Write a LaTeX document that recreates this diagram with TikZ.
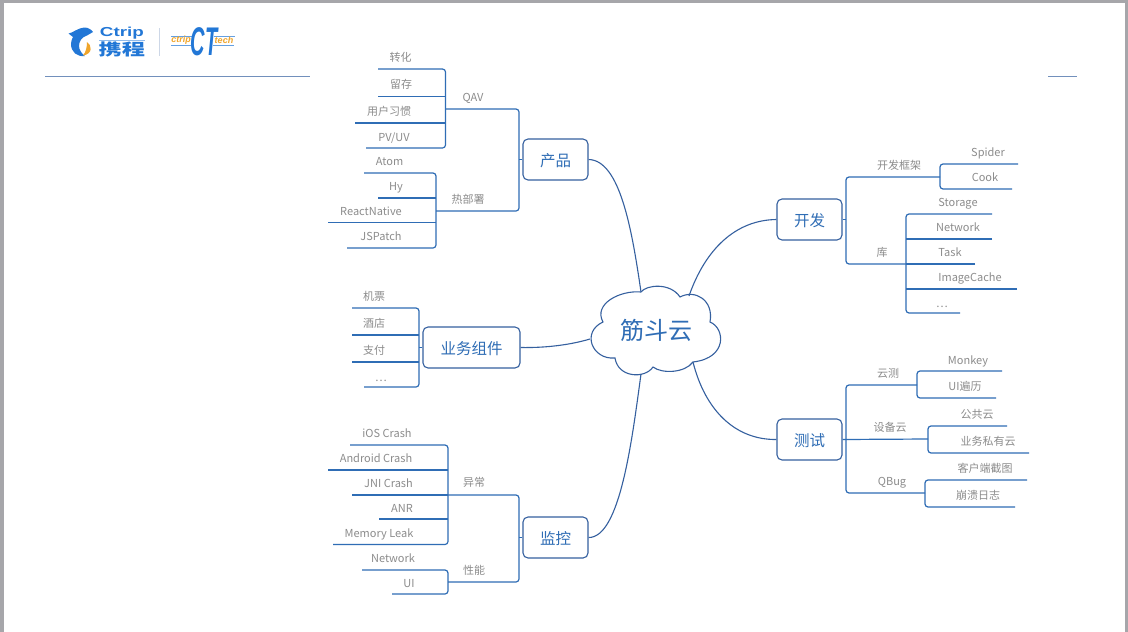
\documentclass[tikz,border=0pt]{standalone}
\usepackage{fontspec}
\setmainfont{Liberation Sans}
\newfontfamily\cjk{Noto Sans CJK SC}
\definecolor{azul}{HTML}{2F6DB5}
\definecolor{azulosc}{HTML}{35609F}
\definecolor{grisletra}{HTML}{8C8C8C}
\definecolor{marco}{HTML}{A6A6AA}
\definecolor{naranja}{HTML}{F0A52A}
\definecolor{logoazul}{HTML}{2277D6}

\begin{document}
\begin{tikzpicture}[x=1pt, y=-1pt,
  caja/.style={draw=azulosc, rounded corners=5pt, line width=1.1pt, fill=white, minimum height=41pt, inner sep=0pt, text=azul, text height=14.5pt, text depth=0pt, font=\cjk\fontsize{15.5}{17}\selectfont},
  nube/.style={inner sep=0pt, text=azul, font=\cjk\fontsize{24}{26}\selectfont},
  hoja/.style={text=grisletra, inner sep=0pt, text height=9.5pt, text depth=2pt, font=\cjk\fontsize{11}{13}\selectfont},
  marca/.style={inner sep=0pt, text=logoazul, transform shape},
  rama/.style={draw=azul, line width=1.2pt, rounded corners=3pt},
  curva/.style={draw=azulosc, line width=1.1pt}]
\useasboundingbox (0,0) rectangle (1128,632);
\fill[marco] (0,0) rectangle (1128,632);
\fill[white] (4,3) rectangle (1125,632);
% cabecera
\draw[azulosc!70, line width=0.7pt] (45,76) -- (310,76);
\draw[azulosc!70, line width=0.7pt] (1048,76) -- (1077,76);
\fill[logoazul] (68.5,33.5) .. controls (73,33) and (77,28) .. (85,27.5) .. controls (88,27.5) and (92,30) .. (93,32) -- (87,35.5) .. controls (82,37) and (79,41) .. (79,46) .. controls (79,50) and (82,54) .. (85,56) .. controls (77,57) and (71,52) .. (71,44) .. controls (71,41) and (72,39) .. (73,37) -- cycle;
\fill[naranja] (87,42) .. controls (92,45) and (93,54) .. (83,55.5) .. controls (86,52) and (87,47) .. (87,42) -- cycle;
\begin{scope}[xscale=1.45]
\node[marca, font=\fontsize{13}{13}\selectfont\bfseries] (ctrip) at (84.1,33) {Ctrip};
\node[marca, font=\cjk\fontsize{16}{16}\selectfont\bfseries] (xiecheng) at (84.1,49.5) {携程};
\end{scope}
\draw[logoazul!50, line width=0.5pt] (99,40) -- (145,40);
\draw[azulosc!25, line width=0.7pt] (159,28) -- (159,56);
\draw[logoazul!70, line width=0.8pt] (171,36) -- (192,36) (171,45.5) -- (191,45.5) (214,36) -- (235,36) (213,45.5) -- (234,45.5);
\node[marca, text=naranja, font=\fontsize{9}{9}\selectfont\bfseries\itshape] (lctrip) at (181,40.5) {ctrip};
\node[marca, text=naranja, font=\fontsize{9}{9}\selectfont\bfseries\itshape] (ltech) at (224,40.5) {tech};
\begin{scope}[xscale=0.5]
\node[marca, font=\fontsize{40}{40}\selectfont\bfseries\itshape] (lct) at (408,42) {CT};
\end{scope}
% nube dibujada a mano
\coordinate (yunA) at (641,292);
\coordinate (yunB) at (689,296);
\coordinate (yunC) at (590,339);
\coordinate (yunD) at (641,374);
\coordinate (yunE) at (693,362);
\draw[curva, fill=white] (yunA) .. controls (646,285) and (670,282) .. (680,297)
  .. controls (695,289) and (714,300) .. (710,322)
  .. controls (725,328) and (728,358) .. (yunE)
  .. controls (685,373) and (662,374) .. (653,367)
  .. controls (645,379) and (618,378) .. (615,358)
  .. controls (592,360) and (581,332) .. (603,322)
  .. controls (593,304) and (620,290) .. (yunA);
\node[nube] (yun) at (656,330) {筋斗云};
% nodos principales
\node[caja, minimum width=65pt] (chanpin) at (555.5,159.5) {产品};
\node[caja, minimum width=97pt] (zujian) at (471.5,347.5) {业务组件};
\node[caja, minimum width=65pt] (jiankong) at (555.5,537.5) {监控};
\node[caja, minimum width=65pt] (kaifa) at (809.5,219.5) {开发};
\node[caja, minimum width=65pt] (ceshi) at (809.5,439.5) {测试};
\draw[curva] (chanpin.east) .. controls (620,160) and (632,230) .. (yunA);
\draw[curva] (zujian.east) .. controls (545,348) and (570,345) .. (yunC);
\draw[curva] (jiankong.east) .. controls (620,538) and (632,440) .. (yunD);
\draw[curva] (kaifa.west) .. controls (735,220) and (705,250) .. (yunB);
\draw[curva] (ceshi.west) .. controls (735,440) and (705,410) .. (yunE);
% etiquetas de rama
\foreach \nombre/\texto/\tx/\ty/\jx/\jy in {
  qav/QAV/473/97.5/445.5/109, rebu/热部署/468/200/436/211,
  yichang/异常/474/483/448/495, xingneng/性能/474/571/448/582,
  kuangjia/开发框架/899/166/940/177, ku/库/882/253/906/264,
  yunce/云测/888/374/917/385, shebei/设备云/890/428/928/439, qbug/QBug/892/482/925/493}
  {\node[hoja] (\nombre) at (\tx,\ty) {\texto};
   \coordinate (\nombre J) at (\jx,\jy);}
% hojas: nombre, texto, centro del texto, extremo libre de la linea
\foreach \nombre/\texto/\tx/\ty/\lx/\ly in {
  zhuanhua/转化/400.5/58/378/69, liucun/留存/401/85/378/96.5, xiguan/用户习惯/389/112/355/123, pvuv/PV\slash UV/394/137.5/366/148,
  atom/Atom/389.5/162/364/173, hy/Hy/396/187/378/198, rn/ReactNative/371/212/328/222.5, jspatch/JSPatch/381/237/347/248,
  jipiao/机票/374/297/352/308, jiudian/酒店/374/324/352/335, zhifu/支付/374/351/352/362, masz/\ldots/381/378/364/387,
  ios/iOS Crash/387/434/350/445, android/Android Crash/376/459/328/470, jni/JNI Crash/388.5/484/352/495, anr/ANR/402/508.5/379/519, leak/Memory Leak/379/534/333/544.5,
  red/Network/393/558.5/362/570, ui/UI/409/583.5/392/594,
  spider/Spider/988/153/1018/164, cook/Cook/985/178/1012/189,
  storage/Storage/958/203/992/214, netw/Network/958/228/992/239, task/Task/950/253/975/264, cache/ImageCache/970/278/1017/289, masi/\ldots/942/304/960/313,
  monkey/Monkey/968/360.5/1002/371, bianli/UI遍历/965/387/996/398, gong/公共云/977/414.5/1007/426, siyou/业务私有云/988/441.5/1029/453,
  jietu/客户端截图/985/469/1027/480, rizhi/崩溃日志/978/496/1015/507}
  {\node[hoja] (\nombre) at (\tx,\ty) {\texto};
   \coordinate (\nombre L) at (\lx,\ly);}
\coordinate (chanpinJ) at (519,159.5);
\coordinate (zujianJ) at (419,347.5);
\coordinate (jiankongJ) at (519,537.5);
\coordinate (kaifaJ) at (846,219.5);
\coordinate (ceshiJ) at (846,439.5);
% producto
\draw[rama] (qavJ) -| (chanpinJ) |- (rebuJ);
\draw[rama] (chanpin.west) -- (chanpinJ);
\draw[rama] (zhuanhuaL) -| (qavJ) |- (pvuvL);
\draw[rama] (liucunL) -- (qavJ |- liucunL);
\draw[rama] (xiguanL) -- (qavJ |- xiguanL);
\draw[rama] (atomL) -| (rebuJ) |- (jspatchL);
\draw[rama] (hyL) -- (rebuJ |- hyL);
\draw[rama] (rnL) -- (rebuJ |- rnL);
% componentes
\draw[rama] (zujian.west) -- (zujianJ);
\draw[rama] (jipiaoL) -| (zujianJ) |- (maszL);
\draw[rama] (jiudianL) -- (zujianJ |- jiudianL);
\draw[rama] (zhifuL) -- (zujianJ |- zhifuL);
% monitor
\draw[rama] (yichangJ) -| (jiankongJ) |- (xingnengJ);
\draw[rama] (jiankong.west) -- (jiankongJ);
\draw[rama] (iosL) -| (yichangJ) |- (leakL);
\draw[rama] (androidL) -- (yichangJ |- androidL);
\draw[rama] (jniL) -- (yichangJ);
\draw[rama] (anrL) -- (yichangJ |- anrL);
\draw[rama] (redL) -| (xingnengJ) |- (uiL);
% desarrollo
\draw[rama] (kuangjiaJ) -| (kaifaJ) |- (kuJ);
\draw[rama] (kaifa.east) -- (kaifaJ);
\draw[rama] (spiderL) -| (kuangjiaJ) |- (cookL);
\draw[rama] (storageL) -| (kuJ) |- (masiL);
\draw[rama] (netwL) -- (kuJ |- netwL);
\draw[rama] (taskL) -- (kuJ);
\draw[rama] (cacheL) -- (kuJ |- cacheL);
% pruebas
\draw[rama] (yunceJ) -| (ceshiJ) |- (qbugJ);
\draw[rama] (ceshi.east) -- (shebeiJ);
\draw[rama] (monkeyL) -| (yunceJ) |- (bianliL);
\draw[rama] (gongL) -| (shebeiJ) |- (siyouL);
\draw[rama] (jietuL) -| (qbugJ) |- (rizhiL);
\end{tikzpicture}
\end{document}
